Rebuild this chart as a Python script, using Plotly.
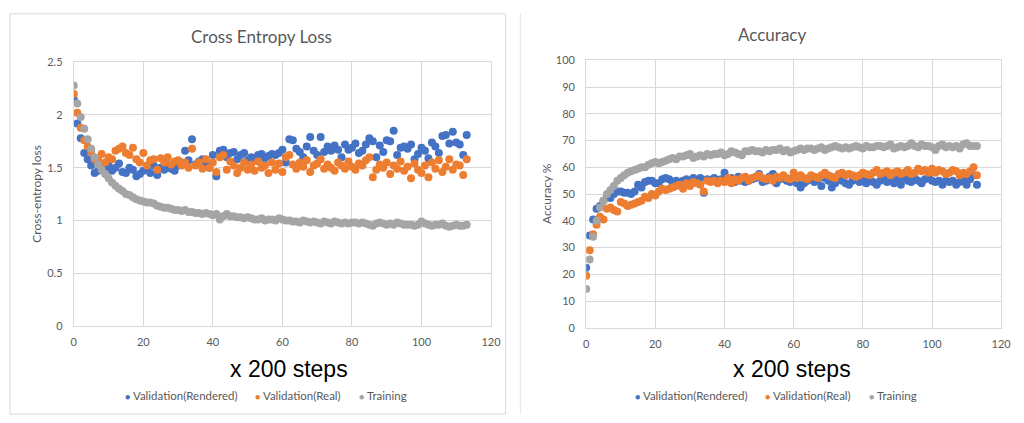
import plotly.graph_objects as go

# ---- data: one value per evaluation (x = evaluation index, 200 steps each) ----
loss_val_rendered = [
    2.15, 1.92, 1.78, 1.64, 1.58, 1.52, 1.45, 1.47, 1.50, 1.48,
    1.52, 1.47, 1.50, 1.54, 1.46, 1.45, 1.50, 1.48, 1.42, 1.44,
    1.47, 1.49, 1.45, 1.52, 1.43, 1.50, 1.48, 1.53, 1.49, 1.47,
    1.52, 1.55, 1.66, 1.57, 1.77, 1.53, 1.56, 1.58, 1.52, 1.50,
    1.62, 1.42, 1.66, 1.67, 1.60, 1.64, 1.65, 1.58, 1.62, 1.64,
    1.57, 1.60, 1.59, 1.62, 1.63, 1.59, 1.61, 1.63, 1.62, 1.64,
    1.67, 1.55, 1.77, 1.76, 1.68, 1.65, 1.60, 1.70, 1.79, 1.66,
    1.62, 1.79, 1.65, 1.70, 1.66, 1.71, 1.67, 1.60, 1.72, 1.67,
    1.69, 1.73, 1.64, 1.66, 1.72, 1.78, 1.75, 1.60, 1.71, 1.65,
    1.76, 1.75, 1.85, 1.62, 1.69, 1.70, 1.68, 1.72, 1.58, 1.63,
    1.69, 1.66, 1.59, 1.74, 1.70, 1.64, 1.80, 1.81, 1.73, 1.84,
    1.74, 1.72, 1.62, 1.81,
]
loss_val_real = [
    2.20, 2.02, 1.88, 1.76, 1.70, 1.65, 1.58, 1.57, 1.63, 1.55,
    1.60, 1.58, 1.66, 1.68, 1.70, 1.64, 1.62, 1.69, 1.58, 1.55,
    1.64, 1.52, 1.57, 1.58, 1.48, 1.59, 1.55, 1.60, 1.53, 1.56,
    1.57, 1.52, 1.55, 1.50, 1.68, 1.52, 1.55, 1.49, 1.58, 1.50,
    1.55, 1.46, 1.60, 1.62, 1.48, 1.56, 1.52, 1.45, 1.50, 1.55,
    1.48, 1.53, 1.47, 1.56, 1.50, 1.52, 1.45, 1.55, 1.48, 1.54,
    1.46, 1.60, 1.62, 1.53, 1.49, 1.55, 1.51, 1.57, 1.46, 1.52,
    1.54, 1.58, 1.49, 1.53, 1.50, 1.47, 1.55, 1.52, 1.49, 1.56,
    1.51, 1.48, 1.54, 1.52, 1.57, 1.60, 1.41, 1.48, 1.53, 1.50,
    1.55, 1.44, 1.52, 1.49, 1.56, 1.47, 1.51, 1.40, 1.54, 1.48,
    1.45, 1.52, 1.41, 1.55, 1.49, 1.57, 1.46, 1.51, 1.58, 1.48,
    1.53, 1.52, 1.43, 1.58,
]
loss_train = [
    2.28, 2.11, 1.98, 1.87, 1.77, 1.68, 1.60, 1.53, 1.48, 1.44,
    1.40, 1.36, 1.33, 1.30, 1.28, 1.25, 1.24, 1.22, 1.20, 1.19,
    1.18, 1.17, 1.17, 1.16, 1.14, 1.13, 1.12, 1.12, 1.11, 1.10,
    1.10, 1.09, 1.10, 1.08, 1.08, 1.07, 1.07, 1.06, 1.07, 1.06,
    1.05, 1.06, 1.01, 1.04, 1.06, 1.04, 1.04, 1.03, 1.03, 1.02,
    1.03, 1.02, 1.01, 1.01, 1.02, 1.00, 1.01, 1.01, 1.00, 1.02,
    1.01, 1.00, 1.00, 0.99, 0.99, 0.98, 1.00, 0.99, 0.98, 0.99,
    0.98, 0.97, 0.99, 0.98, 0.97, 0.99, 0.98, 0.97, 0.98, 0.97,
    0.98, 0.98, 0.97, 0.98, 0.97, 0.96, 0.95, 0.97, 0.98, 0.97,
    0.96, 0.97, 0.96, 0.98, 0.97, 0.96, 0.96, 0.96, 0.95, 0.96,
    0.99, 0.97, 0.96, 0.95, 0.96, 0.96, 0.97, 0.95, 0.94, 0.95,
    0.96, 0.95, 0.95, 0.96,
]

acc_val_rendered = [
    22.5, 34.5, 40.5, 44.5, 45.5, 47.5, 49.0, 48.5, 50.0, 51.0,
    51.0, 50.5, 50.5, 50.0, 51.0, 53.5, 52.5, 54.5, 55.0, 55.0,
    54.0, 54.0, 55.5, 56.0, 55.5, 54.0, 55.0, 54.5, 55.0, 55.5,
    54.5, 56.0, 55.0, 56.0, 50.5, 55.5, 55.0, 56.0, 55.0, 55.5,
    58.0, 55.0, 56.0, 54.5, 56.5, 55.0, 54.5, 55.0, 55.5, 56.0,
    57.5, 54.5, 55.0, 56.5, 57.5, 54.0, 55.5, 56.0, 55.0, 54.5,
    56.0, 54.0, 52.5, 54.0, 55.0, 56.0, 54.5, 55.5, 53.0, 56.0,
    55.0, 52.5, 54.0, 55.5, 55.0, 54.0, 53.5, 55.0, 56.0, 54.5,
    55.0, 54.0, 55.5, 54.5, 53.5, 55.0, 56.0, 54.5, 55.0, 54.0,
    55.5, 53.5, 56.0, 55.0, 54.5, 56.0, 55.0, 54.0, 55.5, 56.5,
    55.0, 54.5, 55.0, 53.5, 55.0, 54.5, 55.0, 53.5, 54.5, 55.0,
    53.5, 55.5, 57.0, 53.5,
]
acc_val_real = [
    19.5, 29.0, 35.0, 38.5, 41.5, 40.5, 44.5, 45.0, 44.0, 43.5,
    47.0, 46.5, 45.5, 46.0, 46.5, 47.0, 47.5, 49.0, 48.5, 50.0,
    49.5, 51.0, 52.0, 51.5, 52.0, 52.5, 53.0, 53.5, 52.0, 54.0,
    53.0, 54.5, 54.0, 53.5, 51.0, 55.0, 54.5, 55.0, 54.0, 55.0,
    54.5, 56.0, 54.0, 55.5, 55.0, 56.0, 56.5, 55.0, 56.0, 56.5,
    57.0, 56.0, 55.5, 56.0, 55.0, 56.5, 56.0, 57.0, 56.0, 55.5,
    58.0, 56.0, 57.0, 56.0, 55.5, 57.0, 56.5, 56.0, 57.0, 58.0,
    57.0, 56.5, 56.0, 57.5, 58.0, 57.0, 57.5, 57.0, 56.5, 57.0,
    58.0, 57.5, 57.0, 58.0, 59.0, 57.5, 58.0, 58.5, 57.0, 58.0,
    58.5, 57.5, 58.0, 59.0, 57.5, 58.0, 59.5, 58.5, 59.0, 58.0,
    59.5, 58.0, 59.0, 58.5, 57.5, 58.0, 59.0, 58.5, 57.0, 58.0,
    57.5, 58.5, 60.0, 57.0,
]
acc_train = [
    14.5, 25.5, 34.0, 40.0, 45.0, 47.5, 50.0, 51.5, 53.0, 55.0,
    56.0, 57.0, 58.0, 58.5, 59.0, 59.5, 60.0, 60.0, 61.0, 61.5,
    62.0, 61.5, 62.0, 62.5, 63.0, 63.5, 63.0, 64.0, 64.0, 64.5,
    65.0, 63.5, 64.0, 64.5, 64.0, 65.0, 64.5, 65.0, 65.0, 65.5,
    64.5, 65.0, 66.0, 65.5, 65.0, 64.5, 66.0, 66.0, 66.5, 66.0,
    66.0, 65.5, 66.5, 66.0, 66.5, 66.5, 67.0, 66.0, 66.5, 65.5,
    66.0, 66.5, 67.0, 66.5, 67.0, 67.0, 66.5, 67.0, 67.5, 66.5,
    67.0, 67.5, 68.0, 67.5, 67.0, 67.5, 67.0, 67.5, 68.0, 67.5,
    67.0, 68.0, 67.5, 67.5, 68.0, 68.0, 67.5, 68.0, 68.5, 67.0,
    67.5, 68.0, 67.5, 68.0, 69.0, 68.0, 67.5, 68.5, 68.0, 68.0,
    67.5, 66.5, 68.0, 68.5, 67.5, 68.0, 67.5, 68.0, 67.0, 68.5,
    69.0, 68.0, 68.0, 68.0,
]

series_names = ["Validation(Rendered)", "Validation(Real)", "Training"]
series_colors = ["#4472C4", "#ED7D31", "#A5A5A5"]

x_ticks = [0, 20, 40, 60, 80, 100, 120]
loss_ticks = [0, 0.5, 1, 1.5, 2, 2.5]
loss_tick_text = ["0", "0.5", "1", "1.5", "2", "2.5"]
acc_ticks = [0, 10, 20, 30, 40, 50, 60, 70, 80, 90, 100]

W, H = 1024, 423
FONT = "Lato, 'Open Sans', sans-serif"
GREY_TXT = "#595959"
GRID = "#D9D9D9"


def px(x):
    return x / W


def py(y):
    return 1 - y / H


fig = go.Figure()

panels = [
    ("x", "y", [loss_val_rendered, loss_val_real, loss_train]),
    ("x2", "y2", [acc_val_rendered, acc_val_real, acc_train]),
]
for xa, ya, data in panels:
    for name, color, vals in zip(series_names, series_colors, data):
        fig.add_trace(go.Scatter(
            x=list(range(len(vals))), y=vals, mode="markers", name=name,
            xaxis=xa, yaxis=ya, showlegend=False,
            marker=dict(color=color, size=8, line=dict(width=0)),
        ))

axis_common = dict(
    showgrid=True, gridcolor=GRID, gridwidth=1,
    showline=True, linecolor=GRID, linewidth=1, mirror=True,
    zeroline=False, ticks="",
    tickfont=dict(family=FONT, size=11, color=GREY_TXT),
)

fig.update_layout(
    width=W, height=H,
    margin=dict(l=0, r=0, t=0, b=0),
    paper_bgcolor="white", plot_bgcolor="white",
    xaxis=dict(domain=[px(71.7), px(494.3)], range=[0, 120], tickvals=x_ticks,
               anchor="y", ticklabelstandoff=6, **axis_common),
    yaxis=dict(domain=[py(329), py(57)], range=[0, 2.5], tickvals=loss_ticks,
               ticktext=loss_tick_text, anchor="x", ticklabelstandoff=8, **axis_common),
    xaxis2=dict(domain=[px(590.7), px(1011)], range=[0, 120], tickvals=x_ticks,
                anchor="y2", ticklabelstandoff=6, **axis_common),
    yaxis2=dict(domain=[py(331), py(55)], range=[0, 100], tickvals=acc_ticks,
                anchor="x2", ticklabelstandoff=8, **axis_common),
)

annotations = []


def text(x, y, s, size, color=GREY_TXT, family=FONT, angle=0, xanchor="center"):
    annotations.append(dict(
        x=px(x), y=py(y), xref="paper", yref="paper", text=s, showarrow=False,
        xanchor=xanchor, yanchor="middle", textangle=angle,
        font=dict(family=family, size=size, color=color),
    ))


# chart titles
text(262, 30, "Cross Entropy Loss", 17)
text(779, 28, "Accuracy", 17)
# axis titles
text(33, 193, "Cross-entropy loss", 12, angle=-90)
text(550, 193, "Accuracy %", 12, angle=-90)
text(290, 373, "x 200 steps", 23, color="black", family="'Liberation Sans', Arial, sans-serif")
text(799, 373, "x 200 steps", 23, color="black", family="'Liberation Sans', Arial, sans-serif")

# legends (marker dot + label per series)
legend_left = [122, 253, 359]
legend_right = [638, 770, 875]
for starts in (legend_left, legend_right):
    for x0, name, color in zip(starts, series_names, series_colors):
        annotations.append(dict(
            x=px(x0), y=py(401), xref="paper", yref="paper", showarrow=False,
            xanchor="left", yanchor="middle",
            text=f"<span style='color:{color};font-size:9px'>\u25CF</span> {name}",
            font=dict(family=FONT, size=11.5, color=GREY_TXT),
        ))

fig.update_layout(annotations=annotations)

# chart frames
fig.add_shape(type="rect", xref="paper", yref="paper",
              x0=px(7), x1=px(509), y0=py(420), y1=py(7),
              line=dict(color=GRID, width=1), layer="below")
fig.add_shape(type="line", xref="paper", yref="paper",
              x0=px(524), x1=px(524), y0=py(420), y1=py(7),
              line=dict(color="#E4E4E4", width=1), layer="below")

fig.write_html("out.html")
